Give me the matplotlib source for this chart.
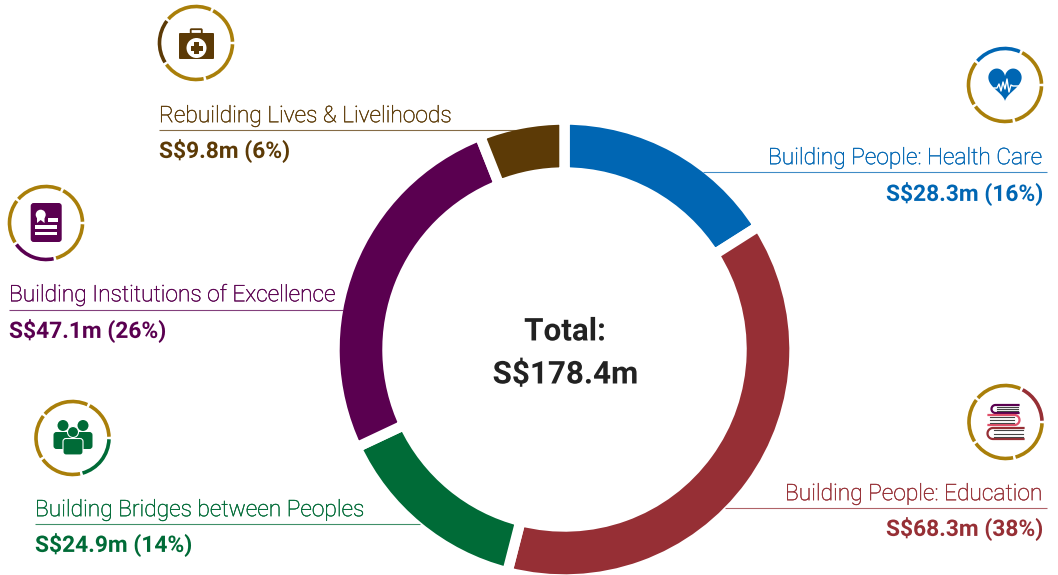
import matplotlib
matplotlib.use("Agg")
import matplotlib.pyplot as plt
from matplotlib.patches import Arc, Circle, FancyBboxPatch, Polygon, Rectangle
from matplotlib import patheffects
import numpy as np

W, H = 1058, 575

labels = ['Building People: Health Care', 'Building People: Education',
          'Building Bridges between Peoples', 'Building Institutions of Excellence',
          'Rebuilding Lives & Livelihoods']
shares = [16, 38, 14, 26, 6]
amounts = ['S$28.3m (16%)', 'S$68.3m (38%)', 'S$24.9m (14%)', 'S$47.1m (26%)', 'S$9.8m (6%)']
colors = ['#0066b3', '#962f35', '#006b37', '#5a0050', '#5c3a06']
total_text = 'Total:\nS$178.4m'

GOLD = '#a97f0a'

plt.rcParams['font.family'] = ['Roboto', 'DejaVu Sans']
plt.rcParams['text.hinting'] = 'no_hinting'
plt.rcParams['text.hinting_factor'] = 1


def Y(y):
    return H - y


fig = plt.figure(figsize=(W / 100, H / 100), dpi=100)
ax = fig.add_axes([0, 0, 1, 1])

# donut, white edges make the gaps
ax.pie(shares, colors=colors, startangle=90, counterclock=False,
       center=(564.5, Y(349.5)), radius=230, frame=False,
       wedgeprops=dict(width=53, edgecolor='white', linewidth=7.5))

ax.set_xlim(0, W)
ax.set_ylim(0, H)
ax.set_aspect('auto')
ax.axis('off')

tt = ax.text(564.5, Y(353.5), total_text, ha='center', va='center', fontsize=22.6,
             fontweight='bold', color='#222222', linespacing=1.58)
tt.set_path_effects([patheffects.Normal()])

# x label, x amount, y label, y line, x0 line, x1 line, y amount
layout = [
    (768, 886, 158, 171.5, 703, 1047, 194),
    (785, 886, 494, 507.5, 725, 1047, 529),
    (35, 35, 510, 523.5, 35, 420, 545),
    (9, 9, 295, 309.5, 9, 343, 331),
    (159, 159, 116, 129.5, 159, 516, 151),
]
for i in range(5):
    xl, xa, yl, yline, x0, x1, ya = layout[i]
    t = ax.text(xl, Y(yl), labels[i], ha='left', va='center', fontsize=16.4, fontweight='light', color=colors[i])
    t.set_path_effects([patheffects.withStroke(linewidth=0.3, foreground=colors[i])])
    ax.plot([x0, x1], [Y(yline), Y(yline)], color=colors[i], lw=0.8, alpha=0.75, zorder=1,
            solid_capstyle='butt')
    a = ax.text(xa, Y(ya), amounts[i], ha='left', va='center', fontsize=16.4, fontweight='bold', color=colors[i])
    a.set_path_effects([patheffects.Normal()])

# ring segments round the icons, one of them in the series colour
segments = [(64, 0), (0, -76), (-76, -146), (-146, -219), (-219, -296)]


def ring(cx, cy, color, colored):
    for k, (a, b) in enumerate(segments):
        c = color if k == colored else GOLD
        ax.add_patch(Arc((cx, Y(cy)), 73, 73, theta1=b + 2, theta2=a - 2, color=c, lw=2.6))


def rect(cx, cy, x0, y0, x1, y1, color, z=7):
    ax.add_patch(Rectangle((cx + x0, Y(cy + y1)), x1 - x0, y1 - y0, fc=color, ec='none', zorder=z))


def box(x, y, w, h, color, r=2, z=6):
    ax.add_patch(FancyBboxPatch((x + r, Y(y + h) + r), w - 2 * r, h - 2 * r,
                                boxstyle='round,pad=%s' % r, fc=color, ec='none', zorder=z))


def case_icon(cx, cy, c):
    ax.add_patch(FancyBboxPatch((cx - 4.5, Y(cy - 10)), 9.5, 3, boxstyle='round,pad=0.8', fc='none', ec=c, lw=1.3, zorder=6))
    box(cx - 17, cy - 10, 35, 26, c, r=1)
    ax.add_patch(Circle((cx + 0.5, Y(cy + 5)), 10, fc='white', ec='none', zorder=7))
    rect(cx, cy, -2, -1, 3, 11, c, z=8)
    rect(cx, cy, -5.5, 2.5, 6.5, 7.5, c, z=8)


def heart_icon(cx, cy, c):
    t = np.linspace(0, 2 * np.pi, 120)
    hx = 16 * np.sin(t) ** 3
    hy = 13 * np.cos(t) - 5 * np.cos(2 * t) - 2 * np.cos(3 * t) - np.cos(4 * t)
    ax.add_patch(Polygon(np.c_[cx + hx * 1.04, Y(cy) + hy * 1.13 + 3], fc=c, ec='none', zorder=6))
    px = np.array([-11, -8, -6, -4, -2, 0, 2, 4, 6, 8, 15])
    py = np.array([-3, -3, 1, -6, 3, -4, 6, -7, 0, -1, -1])
    ax.plot(cx + px, Y(cy) + py, color='white', lw=1, zorder=7)


def cert_icon(cx, cy, c):
    box(cx - 15.3, cy - 20, 31, 39, c, r=3)
    ax.add_patch(Circle((cx - 5.3, Y(cy - 8.3)), 5, fc='white', ec='none', zorder=7))
    ax.add_patch(Polygon([(cx - 9, Y(cy - 6)), (cx - 1.5, Y(cy - 6)), (cx - 1.5, Y(cy)),
                          (cx - 5.3, Y(cy - 3)), (cx - 9, Y(cy))], fc='white', ec='none', zorder=7))
    rect(cx, cy, 2.3, -5, 11.7, -1, 'white')
    rect(cx, cy, -11, 2.3, 11, 5.7, 'white')
    rect(cx, cy, -11, 9, 11, 12.3, 'white')


def person(cx, head_y, body_y, bottom, half, c, z, edge):
    ax.add_patch(Circle((cx, Y(head_y)), 5.5, fc=c, ec=edge, lw=0.8, zorder=z + 1))
    ax.add_patch(FancyBboxPatch((cx - half + 3, Y(bottom)), 2 * half - 6, bottom - body_y - 3,
                                boxstyle='round,pad=3', fc=c, ec=edge, lw=0.8, zorder=z))


def people_icon(cx, cy, c):
    person(cx - 9.5, cy - 12.5, cy - 6, cy + 8, 9.5, c, 6, 'none')
    person(cx + 10.5, cy - 12.5, cy - 6, cy + 8, 9.5, c, 6, 'none')
    person(cx + 0.5, cy - 6, cy + 0.5, cy + 14, 10, c, 8, 'white')


def book(cx, cy, x0, x1, y0, y1, spine_left, col):
    # cover as a C shape, pages as dark lines
    r = (y1 - y0) / 2
    t = np.linspace(np.pi / 2, 3 * np.pi / 2, 20)
    if spine_left:
        xs = np.r_[x1, x0 + r + r * np.cos(t), x1]
        plain = (x0 + r + 1, x1 - 1)
    else:
        xs = np.r_[x0, x1 - r - r * np.cos(t), x0]
        plain = (x0 + 1, x1 - r - 1)
    ys = np.r_[y0, (y0 + y1) / 2 - r * np.sin(t), y1]
    ax.plot(cx + xs, Y(cy + ys), color=col, lw=1.6, zorder=6)
    for d in np.linspace(y0 + 2.2, y1 - 2.2, 3):
        ax.plot([cx + plain[0], cx + plain[1]], [Y(cy + d)] * 2, color='#444444', lw=0.8, zorder=7)


def books_icon(cx, cy, c):
    book(cx, cy, -14, 13, -17, -9, True, '#5a0050')
    book(cx, cy, -17, 14, -7, 3, False, '#e0506a')
    book(cx, cy, -18, 18, 6, 17, True, c)


icons = [(1005, 85, 0, heart_icon), (1005.5, 422, 1, books_icon), (72.5, 438, 2, people_icon),
         (46, 223, 3, cert_icon), (196, 43, 4, case_icon)]
ring_slot = [4, 0, 1, 2, 3]
for n, (cx, cy, ci, draw) in enumerate(icons):
    ring(cx, cy, colors[ci], ring_slot[n])
    draw(cx, cy, colors[ci])

fig.savefig('out.png', dpi=100)
